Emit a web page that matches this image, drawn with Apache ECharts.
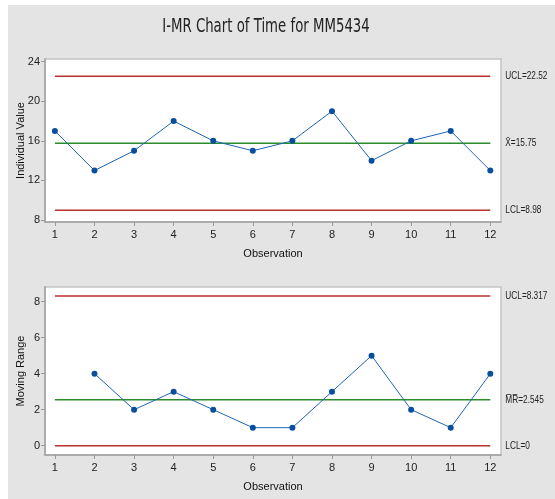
<!DOCTYPE html>
<html>
<head>
<meta charset="utf-8">
<script src="https://cdn.jsdelivr.net/npm/echarts@6/dist/echarts.min.js"></script>
<style>
  html, body { margin: 0; padding: 0; background: #fff; }
  #main { width: 555px; height: 499px; }
</style>
</head>
<body>
<div id="main"></div>
<script>
var observations = [1, 2, 3, 4, 5, 6, 7, 8, 9, 10, 11, 12];
var individualValues = [17, 13, 15, 18, 16, 15, 16, 19, 14, 16, 17, 13];
var movingRanges = [null, 4, 2, 3, 2, 1, 1, 3, 5, 2, 1, 4];
var iLimitValues = [22.52, 15.75, 8.98];
var iLimitLabels = ['UCL=22.52', 'X\u0304=15.75', 'LCL=8.98'];
var mrLimitValues = [8.317, 2.545, 0];
var mrLimitLabels = ['UCL=8.317', 'M\u0305R\u0305=2.545', 'LCL=0'];
var iTicks = [8, 12, 16, 20, 24];
var mrTicks = [0, 2, 4, 6, 8];

var FONT = '"Liberation Sans", Arial, sans-serif';
var RED = '#b8312f', GREEN = '#2a8c2a', BLUE = '#1f66b8', DOT = '#0a4f9e';
var limitColors = [RED, GREEN, RED];

function pairs(ys) {
  var out = [];
  observations.forEach(function (x, i) {
    if (ys[i] !== null) out.push([x, ys[i]]);
  });
  return out;
}

function limitSeries(idx, values) {
  return values.map(function (v, k) {
    return {
      type: 'line', xAxisIndex: idx, yAxisIndex: idx,
      data: [[observations[0], v], [observations[observations.length - 1], v]],
      symbol: 'none', silent: true,
      lineStyle: { color: limitColors[k], width: 1.5 }
    };
  });
}

// right-hand limit labels, placed through the axis scales and squeezed horizontally
function labelSeries(idx, values, labels) {
  var last = observations[observations.length - 1];
  return {
    type: 'custom', xAxisIndex: idx, yAxisIndex: idx, silent: true,
    data: values.map(function (v) { return [last, v]; }),
    renderItem: function (params, api) {
      var p = api.coord([api.value(0), api.value(1)]);
      return {
        type: 'text', x: p[0] + 15, y: p[1], scaleX: 0.72,
        style: {
          text: labels[params.dataIndex], verticalAlign: 'middle',
          fontFamily: FONT, fontSize: 11.5, fill: '#222'
        }
      };
    }
  };
}

function xAxis(idx) {
  return {
    type: 'value', gridIndex: idx, min: 0.75, max: 12.27,
    name: 'Observation', nameLocation: 'middle', nameGap: 26,
    nameTextStyle: { fontFamily: FONT, fontSize: 11, color: '#111' },
    splitLine: { show: false },
    axisLine: { show: true, onZero: false, lineStyle: { color: '#a0a0a0', width: 1.5 } },
    axisTick: { show: true, customValues: observations, length: 4, lineStyle: { color: '#999' } },
    axisLabel: { customValues: observations, fontFamily: FONT, fontSize: 11, color: '#222', margin: 7 }
  };
}

function yAxis(idx, min, max, ticks, name) {
  return {
    type: 'value', gridIndex: idx, min: min, max: max,
    name: name, nameLocation: 'middle', nameGap: 19, nameMoveOverlap: false,
    nameTextStyle: { fontFamily: FONT, fontSize: 11, color: '#111' },
    splitLine: { show: false },
    axisLine: { show: true, onZero: false, lineStyle: { color: '#a0a0a0', width: 1.5 } },
    axisTick: { show: true, customValues: ticks, length: 4, lineStyle: { color: '#999' } },
    axisLabel: { customValues: ticks, fontFamily: FONT, fontSize: 11, color: '#222', margin: 5 }
  };
}

var chart = echarts.init(document.getElementById('main'));
chart.setOption({
  backgroundColor: '#fff',
  animation: false,
  graphic: [{
    type: 'rect', left: 8, top: 5, z: -10,
    shape: { width: 547, height: 494 },
    style: { fill: '#e4e4e4' }
  }, {
    type: 'text', x: 266, y: 27, scaleX: 0.7, z: 10,
    style: {
      text: 'I-MR Chart of Time for MM5434', align: 'center', verticalAlign: 'middle',
      fontFamily: '"DejaVu Sans", sans-serif', fontSize: 19, fill: '#222'
    }
  }],
  grid: [
    { left: 45, top: 59, width: 456, height: 163, show: true, backgroundColor: '#fff', borderColor: '#c4c4c4', borderWidth: 1.5 },
    { left: 45, top: 287, width: 456, height: 168, show: true, backgroundColor: '#fff', borderColor: '#c4c4c4', borderWidth: 1.5 }
  ],
  xAxis: [xAxis(0), xAxis(1)],
  yAxis: [
    yAxis(0, 7.8, 24.27, iTicks, 'Individual Value'),
    yAxis(1, -0.52, 8.82, mrTicks, 'Moving Range')
  ],
  series: [].concat(
    limitSeries(0, iLimitValues),
    [labelSeries(0, iLimitValues, iLimitLabels), {
      type: 'line', xAxisIndex: 0, yAxisIndex: 0, data: pairs(individualValues),
      symbol: 'circle', symbolSize: 6,
      lineStyle: { color: BLUE, width: 1 }, itemStyle: { color: DOT }
    }],
    limitSeries(1, mrLimitValues),
    [labelSeries(1, mrLimitValues, mrLimitLabels), {
      type: 'line', xAxisIndex: 1, yAxisIndex: 1, data: pairs(movingRanges),
      symbol: 'circle', symbolSize: 6,
      lineStyle: { color: BLUE, width: 1 }, itemStyle: { color: DOT }
    }]
  )
});
</script>
</body>
</html>
